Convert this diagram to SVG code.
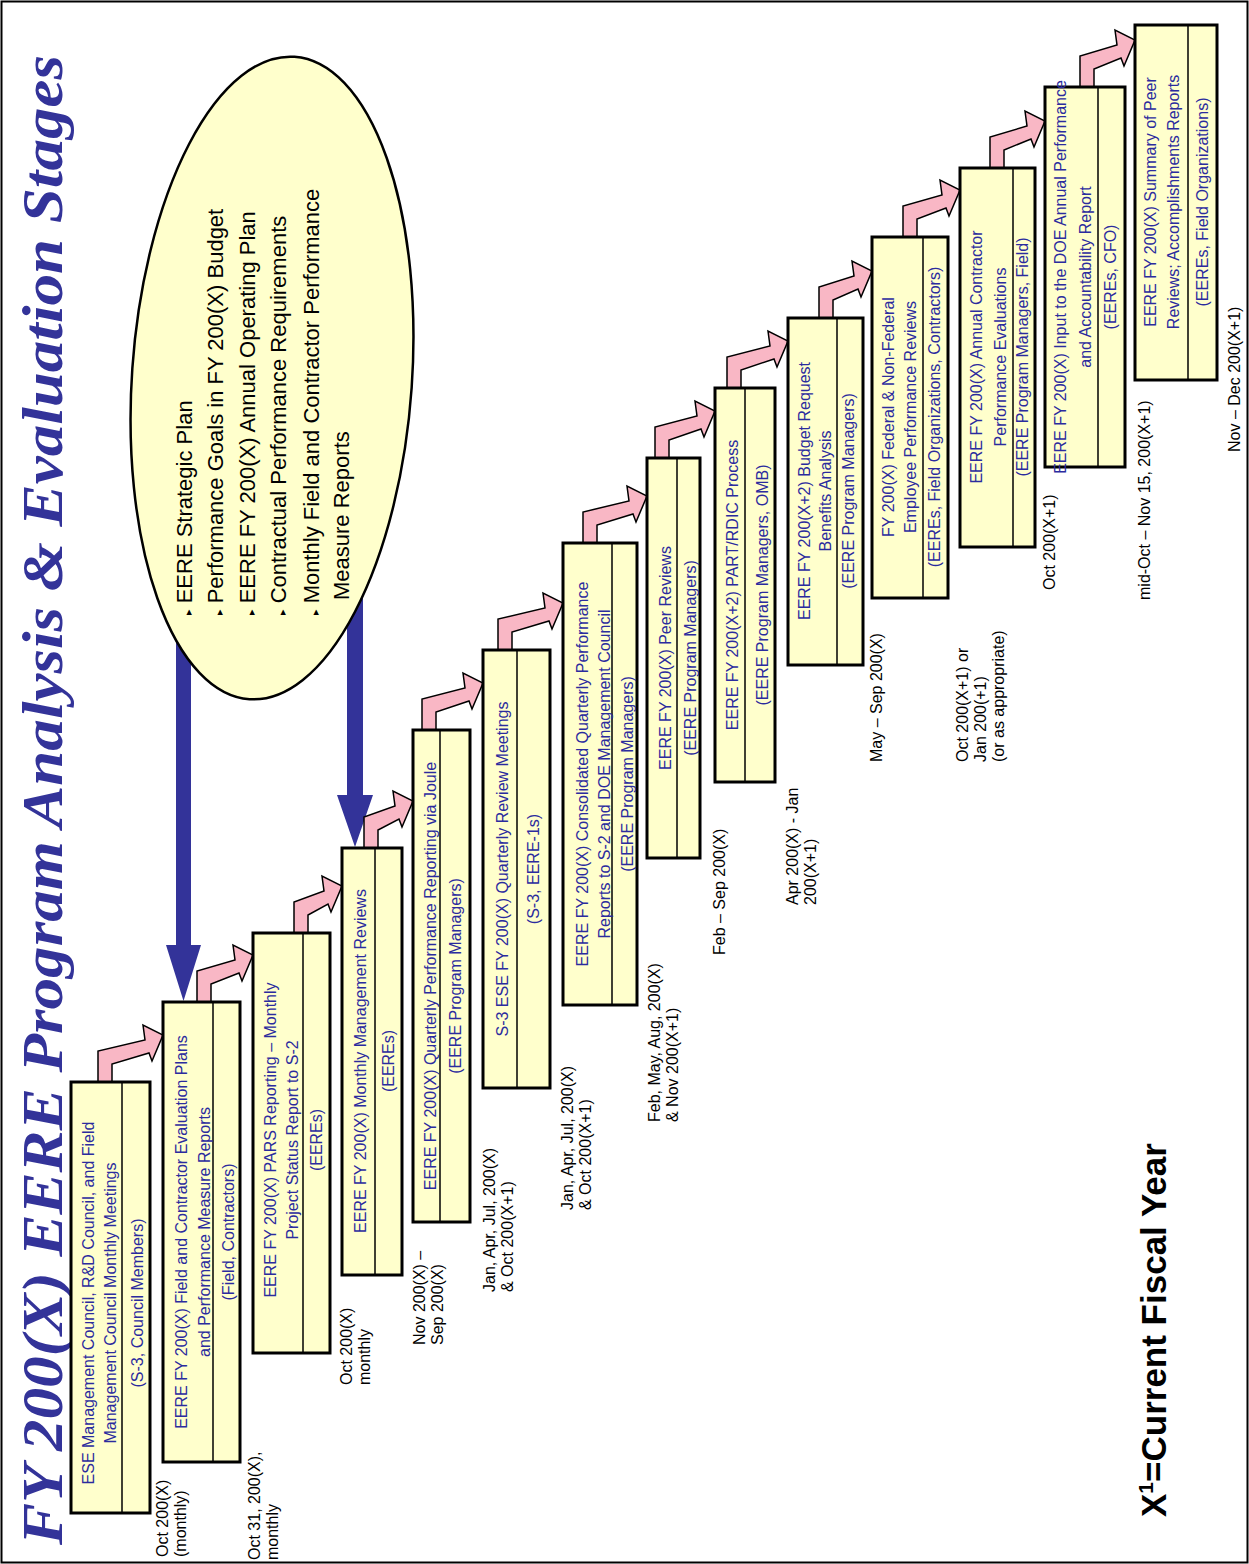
<svg xmlns="http://www.w3.org/2000/svg" width="1249" height="1564" viewBox="0 0 1249 1564">
<style>
.frame{fill:#fff;stroke:#000;stroke-width:2}
.box{fill:#FFFFCC;stroke:#000;stroke-width:3}
.div{stroke:#000;stroke-width:1.5}
.bt{font-family:"Liberation Sans",Arial,sans-serif;font-size:16px;fill:#2B2B9E;text-anchor:middle}
.lb{font-family:"Liberation Sans",Arial,sans-serif;font-size:16px;fill:#000}
.el{font-family:"Liberation Sans",Arial,sans-serif;font-size:22px;fill:#000}
.bul{font-family:"DejaVu Sans",sans-serif;font-size:11px}
.pink{fill:#F9B7C5;stroke:#000;stroke-width:1.5;stroke-linejoin:miter}
.blue{fill:#333399}
.title{font-family:"Liberation Serif","Times New Roman",serif;font-size:56px;font-weight:bold;font-style:italic;fill:#333399;text-anchor:middle}
.foot{font-family:"Liberation Sans",Arial,sans-serif;font-size:35px;font-weight:bold;fill:#000}
</style>
<rect class="frame" x="1.5" y="1.5" width="1246" height="1561"/>
<text class="title" transform="translate(62,800) rotate(-90)" x="0" y="0" textLength="1490" lengthAdjust="spacingAndGlyphs">FY 200(X) EERE Program Analysis &amp; Evaluation Stages</text>

<g id="connectors">
<path class="blue" d="M176,400 V945 H166 L183.5,1001 L201,945 H191 V400 Z"/>
<path class="blue" d="M347,500 V795 H337 L355,847 L373,795 H363 V500 Z"/>
<path class="pink" d="M98,1082 V1051 L145,1040 L143,1025 L163,1035 L152,1061 L149,1053 L112,1064 V1082 Z"/>
<path class="pink" d="M197,1002 V971 L235,960 L233,945 L253,955 L242,981 L239,973 L211,984 V1002 Z"/>
<path class="pink" d="M294,933 V902 L324,891 L322,876 L342,886 L331,912 L328,904 L308,915 V933 Z"/>
<path class="pink" d="M364,848 V817 L395,806 L393,791 L413,801 L402,827 L399,819 L378,830 V848 Z"/>
<path class="pink" d="M422,730 V699 L465,688 L463,673 L483,683 L472,709 L469,701 L436,712 V730 Z"/>
<path class="pink" d="M498,650 V619 L545,608 L543,593 L563,603 L552,629 L549,621 L512,632 V650 Z"/>
<path class="pink" d="M583,543 V512 L629,501 L627,486 L647,496 L636,522 L633,514 L597,525 V543 Z"/>
<path class="pink" d="M655,458 V427 L697,416 L695,401 L715,411 L704,437 L701,429 L669,440 V458 Z"/>
<path class="pink" d="M727,388 V357 L770,346 L768,331 L788,341 L777,367 L774,359 L741,370 V388 Z"/>
<path class="pink" d="M819,318 V287 L854,276 L852,261 L872,271 L861,297 L858,289 L833,300 V318 Z"/>
<path class="pink" d="M903,237 V206 L942,195 L940,180 L960,190 L949,216 L946,208 L917,219 V237 Z"/>
<path class="pink" d="M990,168 V137 L1027,126 L1025,111 L1045,121 L1034,147 L1031,139 L1004,150 V168 Z"/>
<path class="pink" d="M1080,87 V56 L1117,45 L1115,30 L1135,40 L1124,66 L1121,58 L1094,69 V87 Z"/>
</g>

<g id="inputs">
<ellipse cx="272" cy="378" rx="140" ry="322" transform="rotate(4 272 378)" fill="#FFFFCC" stroke="#000" stroke-width="2.5"/>
<text class="el" transform="translate(192,615) rotate(-90)"><tspan class="bul">▸</tspan> EERE Strategic Plan</text>
<text class="el" transform="translate(223,615) rotate(-90)"><tspan class="bul">▸</tspan> Performance Goals in FY 200(X) Budget</text>
<text class="el" transform="translate(255,615) rotate(-90)"><tspan class="bul">▸</tspan> EERE FY 200(X) Annual Operating Plan</text>
<text class="el" transform="translate(286,615) rotate(-90)"><tspan class="bul">▸</tspan> Contractual Performance Requirements</text>
<text class="el" transform="translate(319,615) rotate(-90)"><tspan class="bul">▸</tspan> Monthly Field and Contractor Performance</text>
<text class="el" transform="translate(349,600) rotate(-90)">Measure Reports</text>
</g>

<g id="stage1">
<rect class="box" x="71" y="1082" width="79" height="431"/>
<line class="div" x1="122" y1="1082" x2="122" y2="1513"/>
<text class="bt" transform="translate(94,1303) rotate(-90)">ESE Management Council, R&amp;D Council, and Field</text>
<text class="bt" transform="translate(116,1303) rotate(-90)">Management Council Monthly Meetings</text>
<text class="bt" transform="translate(143,1303) rotate(-90)">(S-3, Council Members)</text>
<text class="lb" transform="translate(168,1557) rotate(-90)">Oct 200(X)</text>
<text class="lb" transform="translate(186,1557) rotate(-90)">(monthly)</text>
</g>
<g id="stage2">
<rect class="box" x="163" y="1002" width="77" height="460"/>
<line class="div" x1="213" y1="1002" x2="213" y2="1462"/>
<text class="bt" transform="translate(187,1232) rotate(-90)">EERE FY 200(X) Field and Contractor Evaluation Plans</text>
<text class="bt" transform="translate(210,1232) rotate(-90)">and Performance Measure Reports</text>
<text class="bt" transform="translate(234,1232) rotate(-90)">(Field, Contractors)</text>
<text class="lb" transform="translate(260,1560) rotate(-90)">Oct 31, 200(X),</text>
<text class="lb" transform="translate(278,1560) rotate(-90)">monthly</text>
</g>
<g id="stage3">
<rect class="box" x="253" y="933" width="77" height="420"/>
<line class="div" x1="303" y1="933" x2="303" y2="1353"/>
<text class="bt" transform="translate(276,1140) rotate(-90)">EERE FY 200(X) PARS Reporting –  Monthly</text>
<text class="bt" transform="translate(298,1140) rotate(-90)">Project Status Report to S-2</text>
<text class="bt" transform="translate(322,1140) rotate(-90)">(EEREs)</text>
<text class="lb" transform="translate(352,1385) rotate(-90)">Oct 200(X)</text>
<text class="lb" transform="translate(370,1385) rotate(-90)">monthly</text>
</g>
<g id="stage4">
<rect class="box" x="342" y="848" width="60" height="427"/>
<line class="div" x1="375" y1="848" x2="375" y2="1275"/>
<text class="bt" transform="translate(366,1061) rotate(-90)">EERE FY 200(X) Monthly Management Reviews</text>
<text class="bt" transform="translate(394,1061) rotate(-90)">(EEREs)</text>
<text class="lb" transform="translate(425,1345) rotate(-90)">Nov 200(X) –</text>
<text class="lb" transform="translate(443,1345) rotate(-90)">Sep 200(X)</text>
</g>
<g id="stage5">
<rect class="box" x="413" y="730" width="57" height="492"/>
<line class="div" x1="440" y1="730" x2="440" y2="1222"/>
<text class="bt" transform="translate(436,976) rotate(-90)">EERE FY 200(X) Quarterly Performance Reporting via Joule</text>
<text class="bt" transform="translate(461,976) rotate(-90)">(EERE Program Managers)</text>
<text class="lb" transform="translate(495,1292) rotate(-90)">Jan, Apr, Jul, 200(X)</text>
<text class="lb" transform="translate(513,1292) rotate(-90)">&amp; Oct 200(X+1)</text>
</g>
<g id="stage6">
<rect class="box" x="483" y="650" width="67" height="438"/>
<line class="div" x1="517" y1="650" x2="517" y2="1088"/>
<text class="bt" transform="translate(508,869) rotate(-90)">S-3 ESE FY 200(X) Quarterly Review Meetings</text>
<text class="bt" transform="translate(539,869) rotate(-90)">(S-3, EERE-1s)</text>
<text class="lb" transform="translate(573,1210) rotate(-90)">Jan, Apr, Jul, 200(X)</text>
<text class="lb" transform="translate(591,1210) rotate(-90)">&amp; Oct 200(X+1)</text>
</g>
<g id="stage7">
<rect class="box" x="563" y="543" width="74" height="462"/>
<line class="div" x1="612" y1="543" x2="612" y2="1005"/>
<text class="bt" transform="translate(588,774) rotate(-90)">EERE FY 200(X) Consolidated Quarterly Performance</text>
<text class="bt" transform="translate(610,774) rotate(-90)">Reports to S-2 and DOE Management Council</text>
<text class="bt" transform="translate(633,774) rotate(-90)">(EERE Program Managers)</text>
<text class="lb" transform="translate(660,1122) rotate(-90)">Feb, May, Aug, 200(X)</text>
<text class="lb" transform="translate(678,1122) rotate(-90)">&amp; Nov 200(X+1)</text>
</g>
<g id="stage8">
<rect class="box" x="647" y="458" width="53" height="400"/>
<line class="div" x1="677" y1="458" x2="677" y2="858"/>
<text class="bt" transform="translate(671,658) rotate(-90)">EERE FY 200(X) Peer Reviews</text>
<text class="bt" transform="translate(696,658) rotate(-90)">(EERE Program Managers)</text>
<text class="lb" transform="translate(725,955) rotate(-90)">Feb – Sep 200(X)</text>
</g>
<g id="stage9">
<rect class="box" x="715" y="388" width="60" height="394"/>
<line class="div" x1="745" y1="388" x2="745" y2="782"/>
<text class="bt" transform="translate(738,585) rotate(-90)">EERE FY 200(X+2) PART/RDIC Process</text>
<text class="bt" transform="translate(768,585) rotate(-90)">(EERE Program Managers, OMB)</text>
<text class="lb" transform="translate(798,905) rotate(-90)">Apr 200(X) - Jan</text>
<text class="lb" transform="translate(816,905) rotate(-90)">200(X+1)</text>
</g>
<g id="stage10">
<rect class="box" x="788" y="318" width="75" height="347"/>
<line class="div" x1="837" y1="318" x2="837" y2="665"/>
<text class="bt" transform="translate(810,491) rotate(-90)">EERE FY 200(X+2) Budget Request</text>
<text class="bt" transform="translate(831,491) rotate(-90)">Benefits Analysis</text>
<text class="bt" transform="translate(854,491) rotate(-90)">(EERE Program Managers)</text>
<text class="lb" transform="translate(882,762) rotate(-90)">May – Sep 200(X)</text>
</g>
<g id="stage11">
<rect class="box" x="872" y="237" width="76" height="361"/>
<line class="div" x1="923" y1="237" x2="923" y2="598"/>
<text class="bt" transform="translate(894,417) rotate(-90)">FY 200(X) Federal &amp; Non-Federal</text>
<text class="bt" transform="translate(916,417) rotate(-90)">Employee Performance Reviews</text>
<text class="bt" transform="translate(940,417) rotate(-90)">(EEREs, Field Organizations, Contractors)</text>
<text class="lb" transform="translate(968,762) rotate(-90)">Oct 200(X+1) or</text>
<text class="lb" transform="translate(986,762) rotate(-90)">Jan 200(+1)</text>
<text class="lb" transform="translate(1004,762) rotate(-90)">(or as appropriate)</text>
</g>
<g id="stage12">
<rect class="box" x="960" y="168" width="75" height="379"/>
<line class="div" x1="1013" y1="168" x2="1013" y2="547"/>
<text class="bt" transform="translate(982,357) rotate(-90)">EERE FY 200(X) Annual Contractor</text>
<text class="bt" transform="translate(1006,357) rotate(-90)">Performance Evaluations</text>
<text class="bt" transform="translate(1028,357) rotate(-90)">(EERE Program Managers, Field)</text>
<text class="lb" transform="translate(1055,590) rotate(-90)">Oct 200(X+1)</text>
</g>
<g id="stage13">
<rect class="box" x="1045" y="87" width="80" height="380"/>
<line class="div" x1="1098" y1="87" x2="1098" y2="467"/>
<text class="bt" transform="translate(1066,277) rotate(-90)">EERE FY 200(X) Input to the DOE Annual Performance</text>
<text class="bt" transform="translate(1091,277) rotate(-90)">and Accountability Report</text>
<text class="bt" transform="translate(1116,277) rotate(-90)">(EEREs, CFO)</text>
<text class="lb" transform="translate(1150,600) rotate(-90)">mid-Oct – Nov 15, 200(X+1)</text>
</g>
<g id="stage14">
<rect class="box" x="1135" y="25" width="82" height="355"/>
<line class="div" x1="1188" y1="25" x2="1188" y2="380"/>
<text class="bt" transform="translate(1156,202) rotate(-90)">EERE FY 200(X) Summary of Peer</text>
<text class="bt" transform="translate(1179,202) rotate(-90)">Reviews; Accomplishments Reports</text>
<text class="bt" transform="translate(1208,202) rotate(-90)">(EEREs, Field Organizations)</text>
<text class="lb" transform="translate(1240,452) rotate(-90)">Nov – Dec 200(X+1)</text>
</g>

<text class="foot" transform="translate(1166,1517) rotate(-90)">X<tspan font-size="21" dy="-13">1</tspan><tspan dy="13">=Current Fiscal Year</tspan></text>
</svg>
